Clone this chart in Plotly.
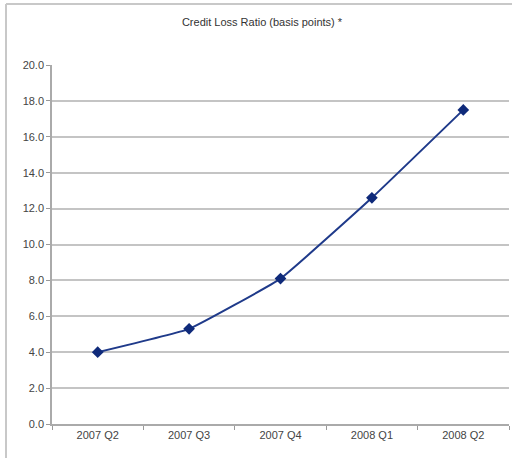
import plotly.graph_objects as go

quarters = ["2007 Q2", "2007 Q3", "2007 Q4", "2008 Q1", "2008 Q2"]
credit_loss = [4.0, 5.3, 8.1, 12.6, 17.5]
y_ticks = [0, 2, 4, 6, 8, 10, 12, 14, 16, 18, 20]

W, H = 512, 458
L, R, T, B = 52, 3, 65, 34
pw, ph = W - L - R, H - T - B

def px(x):
    return (x - L) / pw

def py(y):
    return (H - B - y) / ph

fig = go.Figure()
fig.add_trace(go.Scatter(
    x=quarters, y=credit_loss, mode="lines+markers",
    line=dict(color="#1f3a8a", width=2, shape="spline", smoothing=0.3),
    marker=dict(symbol="diamond", size=9, color="#0f2a7a"),
    showlegend=False,
))

border = dict(color="#c8c8c8", width=2)
fig.update_layout(
    width=W, height=H,
    margin=dict(l=L, r=R, t=T, b=B),
    paper_bgcolor="white", plot_bgcolor="white",
    font=dict(family="Liberation Sans, Arial, sans-serif", size=11, color="#444"),
    title=dict(text="Credit Loss Ratio (basis points) *", xref="container",
               x=262 / W, xanchor="center",
               yref="container", y=1 - 22 / H, yanchor="middle",
               font=dict(size=11, color="#333")),
    xaxis=dict(
        type="category", range=[-0.5, 4.5], tickson="boundaries",
        ticks="outside", ticklen=4, tickcolor="#999",
        showline=True, linecolor="#aaa", linewidth=1.5,
        showgrid=False, tickfont=dict(size=11, color="#444"),
    ),
    yaxis=dict(
        range=[0, 20], tickvals=y_ticks, ticktext=[f"{v:.1f}" for v in y_ticks],
        ticks="outside", ticklen=4, tickcolor="#999",
        showline=True, linecolor="#aaa", linewidth=1.5,
        showgrid=True, gridcolor="#c4c4c4", gridwidth=1.5,
        zeroline=False, tickfont=dict(size=11, color="#444"),
    ),
    shapes=[
        dict(type="line", xref="paper", yref="paper",
             x0=px(6), x1=px(6), y0=py(458), y1=py(4), line=border),
        dict(type="line", xref="paper", yref="paper",
             x0=px(6), x1=px(512), y0=py(4), y1=py(4), line=border),
    ],
)

fig.write_html("out.html")
